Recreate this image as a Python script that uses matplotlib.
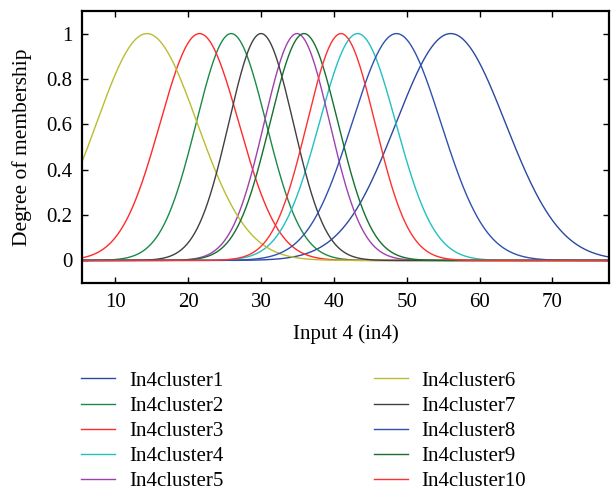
import numpy as np
import matplotlib
matplotlib.use('Agg')
import matplotlib.pyplot as plt

plt.rcParams['font.family'] = ['Liberation Serif', 'DejaVu Serif']

# Gaussian membership functions of input 4 (centre, width)
labels = ['In4cluster%d' % i for i in range(1, 11)]
centers = [56.05, 25.9, 21.55, 43.26, 34.93, 14.33, 30.0, 48.6, 35.9, 40.98]
sigmas = [7.5, 4.8, 5.4, 5.25, 4.5, 6.9, 4.43, 6.1, 4.67, 4.66]
colors = ['#2a4aa0', '#1a8a48', '#ff2a2a', '#22c0c0', '#a040b0',
          '#bcbc30', '#404040', '#3050b0', '#157030', '#ff3030']

x_min, x_max = 5.4, 77.8
x_ticks = [10, 20, 30, 40, 50, 60, 70]
y_ticks = [0, 0.2, 0.4, 0.6, 0.8, 1]
y_tick_labels = ['0', '0.2', '0.4', '0.6', '0.8', '1']

x = np.linspace(x_min, x_max, 600)

fig = plt.figure(figsize=(6.11, 4.95), dpi=100)
ax = fig.add_axes([0.134, 0.428, 0.863, 0.550])

for c, s, col, lab in zip(centers, sigmas, colors, labels):
    y = np.exp(-(x - c) ** 2 / (2 * s ** 2))
    ax.plot(x, y, color=col, linewidth=1.0, label=lab)

ax.set_xlim(x_min, x_max)
ax.set_ylim(-0.1, 1.1)
ax.set_xticks(x_ticks)
ax.set_yticks(y_ticks)
ax.set_yticklabels(y_tick_labels)
ax.tick_params(direction='in', length=4, width=1.0, top=True, right=True,
               labelsize=15, pad=7)
for sp in ax.spines.values():
    sp.set_linewidth(1.6)

ax.set_xlabel('Input 4 (in4)', fontsize=15, labelpad=9)
ax.set_ylabel('Degree of membership', fontsize=15.5, labelpad=10)

handles, labs = ax.get_legend_handles_labels()
fig.legend(handles, labs, loc='upper left', bbox_to_anchor=(0.133, 0.2505),
           ncol=2, frameon=False, fontsize=15, handlelength=1.63,
           handletextpad=0.67, columnspacing=7.2, labelspacing=0.27,
           borderpad=0, borderaxespad=0)

plt.savefig('out.png', dpi=100)
